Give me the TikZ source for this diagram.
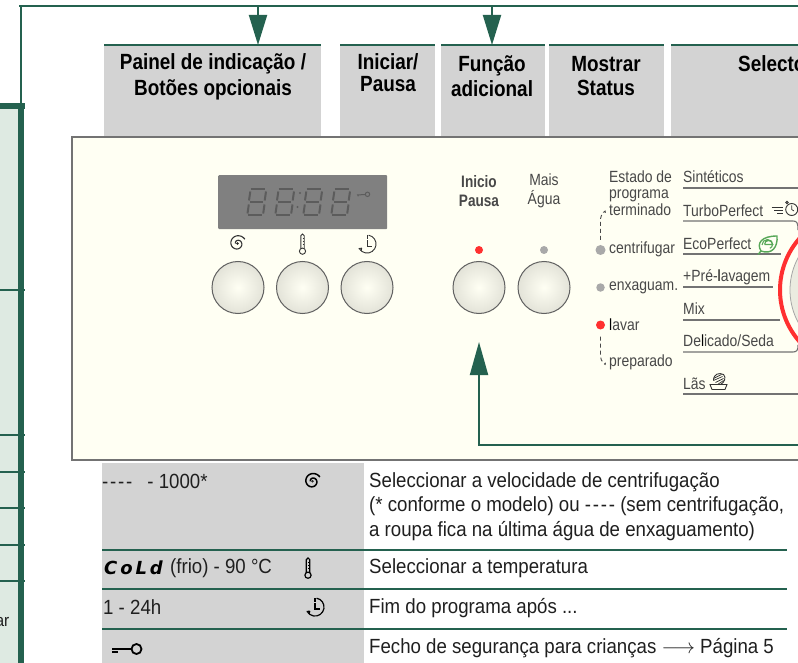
\documentclass[tikz,border=0pt]{standalone}
\usepackage{fontspec}
\usetikzlibrary{arrows.meta,calc}
\setmainfont{Liberation Sans}
\newfontfamily\hdrfont[FakeStretch=0.86]{Liberation Sans Bold}
\newfontfamily\bodyfont[FakeStretch=0.91]{Liberation Sans}
\newfontfamily\panelfont[FakeStretch=0.86]{Liberation Sans}
\newfontfamily\panelbold[FakeStretch=0.82]{Liberation Sans Bold}
\newfontfamily\segfont[LetterSpace=16]{DejaVu Sans Bold Oblique}
\newcommand{\fourdash}{-\kern1.8pt-\kern1.8pt-\kern1.8pt-}
\definecolor{dgreen}{HTML}{24614F}
\definecolor{lgreen}{HTML}{DEEAE2}
\definecolor{hgrey}{HTML}{D3D3D3}
\definecolor{cream}{HTML}{FFFFF3}
\definecolor{ptext}{HTML}{484848}
\definecolor{ledred}{HTML}{FF3030}
\definecolor{ledgrey}{HTML}{A9A9A9}
\definecolor{eco}{HTML}{58A858}
\tikzset{
  x=1pt,y=-1pt,
  wire/.style={draw=dgreen,line width=2pt},
  rowline/.style={draw=dgreen,line width=1.5pt},
  pointer/.style={wire,-{Triangle[width=18pt,length=30pt]}},
  hdrbox/.style={fill=hgrey,inner sep=0pt,outer sep=0pt,anchor=north west,minimum height=92},
  hdrtext/.style={font=\hdrfont\fontsize{22}{24.5}\selectfont,align=center,inner sep=0pt,text=black},
  btn/.style={circle,draw=black!62,line width=1pt,inner color=cream!95!white,outer color=black!11!cream,minimum size=52,inner sep=0pt},
  led/.style={circle,inner sep=0pt},
  ptxt/.style={font=\panelfont\fontsize{16.2}{16.5}\selectfont,text=ptext,inner sep=0pt,align=left,anchor=west},
  pline/.style={draw=black!55,line width=1.1pt},
  dashcurve/.style={draw=ptext,line width=.9pt,dash pattern=on 4pt off 3pt},
  tbl/.style={font=\bodyfont\fontsize{20.5}{24.3}\selectfont,text=black!88,inner sep=0pt,align=left,anchor=west},
  iconl/.style={draw=black!80,line width=.9pt},
  spinl/.style={draw=black!80,line width=1.1pt},
  pics/spinico/.style={code={
    \fill[black!85] (0,0) circle (1.4);
    \draw[spinl,domain=180:690,samples=60,smooth,variable=\t] plot ({(2+6.5*(\t-180)/510)*cos(\t)},{(2+6.5*(\t-180)/510)*sin(\t)});
  }},
  pics/thermico/.style={code={
    \draw[iconl] (-1.7,5.6) -- (-1.7,-7.4) arc[start angle=180,end angle=360,radius=1.7,] -- (1.7,5.6);
    \draw[iconl] (0,8.2) circle (3.1);
    \draw[iconl,line width=.6pt] (0,-5) -- (1.7,-5) (0,-2) -- (1.7,-2) (0,1) -- (1.7,1);
  }},
  pics/clockico/.style={code={
    \draw[iconl] (0,-9) -- (0,-5);
    \draw[iconl] (1.6,-8.8) arc[start angle=-80,end angle=150,radius=9];
    \draw[iconl] (0,-3.6) -- (0,2) -- (4.5,2);
    \draw[iconl] (-8.4,4.6) -- (-5.2,4.1) (-5.2,4.1) -- (-6,7);
  }},
  seg/.style={draw=black!64,line width=2pt,line cap=butt},
  pics/segdigit/.style={code={
    \draw[seg] (2.7,-13) -- (16.8,-13);
    \draw[seg] (1.8,0) -- (14.8,0);
    \draw[seg] (-0.3,13) -- (14,13);
    \draw[seg] (2.3,-11) -- (1,-2);
    \draw[seg] (.8,2) -- (-.5,11);
    \draw[seg] (18,-11) -- (16.7,-2);
    \draw[seg] (16.5,2) -- (15.2,11);
  }},
}
\begin{document}
\begin{tikzpicture}
\useasboundingbox (0,0) rectangle (798,663);
\clip (0,0) rectangle (798,663);
% left band
\fill[lgreen] (0,105) rectangle (18,663);
\fill[dgreen] (18,105) rectangle (24,663);
\fill[dgreen] (0,103.5) rectangle (25,109);
\foreach \yy in {290,435,472,508,545,581}{\draw[rowline] (0,\yy) -- (25,\yy);}
\node[tbl,anchor=east,font=\bodyfont\fontsize{17}{18}\selectfont] (arcut) at (9.5,622) {ar};
% top line
\coordinate (topL) at (19,6);
\coordinate (topR) at (798,6);
\coordinate (band) at (21,105);
\coordinate (t1) at (258,6);
\coordinate (t2) at (492,6);
\draw[wire] (topL) -- (topR);
\draw[wire] (21,6) -- (band);
% headers
\node[hdrbox,minimum width=217] (h1) at (104,45) {};
\node[hdrbox,minimum width=95] (h2) at (340,45) {};
\node[hdrbox,minimum width=104] (h3) at (441,45) {};
\node[hdrbox,minimum width=115] (h4) at (549,45) {};
\node[hdrbox,minimum width=127] (h5) at (671,45) {};
\foreach \h in {h1,h2,h3,h4,h5}{\draw[rowline,line width=2pt] (\h.north west) -- (\h.north east);}
\node[hdrtext] (h1t) at (213,77) {Painel de indicação /\\[1.5pt]Botões opcionais};
\node[hdrtext] (h2t) at (388,73) {Iniciar/\\[-2.5pt]Pausa};
\node[hdrtext] (h3t) at (492,76) {Função\\adicional};
\node[hdrtext] (h4t) at (606,76) {Mostrar\\Status};
\node[hdrtext,anchor=west] (h5t) at (738,64) {Selecto};
\draw[pointer] (t1) -- (t1 |- h1.north);
\draw[pointer] (t2) -- (t2 |- h3.north);
% panel
\fill[cream] (72,137) rectangle (800,460);
\draw[draw=black!55,line width=1.4pt] (800,137) -- (72,137) -- (72,460) -- (800,460);
% display
\node[fill=black!50,rounded corners=1pt,inner sep=0pt,minimum width=169,minimum height=54,anchor=north west] (disp) at (218,175) {};
\foreach \dx in {248,276,304,332}{\pic at (\dx,202.5) {segdigit};}
\fill[black!64] (300,193) circle (1.2) (297.5,207) circle (1.2);
\draw[black!64,line width=1pt] (357,195) -- (365,194.5) (358,195) -- (358,196.5);
\draw[black!64,line width=1pt] (367.5,194.3) circle (2.2);
% icons
\pic at (237.5,243.5) {spinico};
\pic at (302.5,243) {thermico};
\pic at (367,244) {clockico};
% buttons
\node[btn] (b1) at (238,287.5) {};
\node[btn] (b2) at (302.5,287.5) {};
\node[btn] (b3) at (367,287.5) {};
\node[btn] (b4) at (479,287.5) {};
\node[btn] (b5) at (544,287.5) {};
% start/water
\node[font=\panelbold\fontsize{16.6}{18.5}\selectfont,text=ptext,align=center,inner sep=0pt] (l4) at (479,191) {Inicio\\Pausa};
\node[font=\panelfont\fontsize{16.2}{18.5}\selectfont,text=ptext,align=center,inner sep=0pt] (l5) at (544,191) {Mais\\Água};
\node[led,fill=ledred,minimum size=8] (d4) at (479,250) {};
\node[led,fill=ledgrey,minimum size=8] (d5) at (544,250) {};
% status
\node[ptxt] (s0) at (609,193) {Estado de\\programa\\terminado};
\node[ptxt] (s1) at (609,249) {centrifugar};
\node[ptxt] (s2) at (609,288) {enxaguam.};
\node[ptxt] (s3) at (609,325) {\textcolor{black}{l}avar};
\node[ptxt] (s4) at (609,362) {preparado};
\node[led,fill=ledgrey,minimum size=10] (q1) at (600.5,250) {};
\node[led,fill=ledgrey,minimum size=8.5] (q2) at (600.5,287.5) {};
\node[led,fill=ledred,minimum size=9] (q3) at (600.5,325) {};
\draw[dashcurve] (q1.north) ++(0,-5) -- ++(0,-21) .. controls +(0,-4) and +(1,-5) .. +(5,-6);
\draw[dashcurve] (q3.south) ++(0,7) -- ++(0,20) .. controls +(0,4) and +(1,5) .. +(5,6);
% dial
\draw[draw=black!35,fill=black!8!cream,line width=.8pt] (858,290) circle (68);
\draw[draw=ledred,line width=4pt] (858,290) circle (78);
% programmes
\node[ptxt] (p1) at (683,177) {Sintéticos};
\node[ptxt] (p2) at (683,210.5) {TurboPerfect};
\node[ptxt] (p3) at (683,243.5) {EcoPerfect};
\node[ptxt] (p4) at (683,277) {+Pré-\textcolor{black}{l}avagem};
\node[ptxt] (p5) at (683,309) {Mix};
\node[ptxt] (p6) at (683,341) {De\textcolor{black}{l}icado/Seda};
\node[ptxt] (p7) at (683,384) {Lãs};
\draw[pline] (683,188) -- (798,188);
\draw[pline] (683,221) -- (793,221) .. controls (797,221) and (798,223) .. (798,230);
\draw[pline] (683,254) -- (781,254);
\draw[pline] (683,287) -- (773,287);
\draw[pline] (683,320) -- (780,320);
\draw[pline] (683,352) -- (793,352) .. controls (797,352) and (798,350) .. (798,345);
\draw[pline] (683,394) -- (798,394);
% turbo icon
\draw[iconl] (771.5,207.5) -- (783,207.5) (774,210.5) -- (783,210.5) (777,213) -- (783,213);
\draw[iconl] (791.7,209.5) circle (6);
\draw[iconl] (787,202.5) circle (1.2);
\draw[iconl,line width=.7pt] (791.7,205.5) -- (791.7,209.5) -- (794,211);
% eco leaf
\begin{scope}[shift={(767,245)}]
\draw[eco,line width=1.4pt] (-9,9.5) -- (-6,6) .. controls (-11,-2) and (-5,-9) .. (10,-9) .. controls (11,2) and (5,10) .. (-6,6);
\draw[eco,line width=1.1pt] (-2.5,-.5) arc[start angle=180,end angle=430,radius=4] (-5,0) arc[start angle=180,end angle=360,radius=5.5] (-2.5,-.5) -- (5,-.5);
\end{scope}
% wool icon
\begin{scope}[shift={(718.5,381.5)}]
\draw[iconl] (-8.5,3) -- (-6.5,8) -- (6.5,8) -- (8.5,3) -- cycle;
\draw[iconl] (-5,-1) .. controls (-5,-8) and (1,-9) .. (5,-7) .. controls (8,-4) and (6,1) .. (2,3);
\draw[iconl,line width=.7pt] (-5,-3) -- (3,-7) (-5,-1) -- (4,-5) (-3,1) -- (5,-3) (-1,3) -- (5,-1);
\end{scope}
% feedback arrow
\coordinate (fbR) at (798,445);
\coordinate (fbT) at (479,342);
\draw[wire,-{Triangle[width=18pt,length=33pt]}] (fbR) -- (fbT |- fbR) -- (fbT);
% table
\fill[hgrey] (102,463) rectangle (364,663);
\coordinate (r1) at (102,550); \coordinate (r1e) at (787,550);
\coordinate (r2) at (102,589); \coordinate (r2e) at (787,589);
\coordinate (r3) at (102,629); \coordinate (r3e) at (787,629);
\draw[rowline] (r1) -- (r1e);
\draw[rowline] (r2) -- (r2e);
\draw[rowline] (r3) -- (r3e);
\node[tbl] (t1a) at (102,481) {\fourdash\hspace{15pt}- 1000*};
\begin{scope}[spinl/.style={draw=black,line width=1.5pt},iconl/.style={draw=black,line width=1.2pt}]
\pic at (312.5,481.3) {spinico};
\pic at (308,567) {thermico};
\pic at (315,607) {clockico};
\end{scope}
\node[font=\segfont\fontsize{18}{18}\selectfont,text=black,inner sep=0pt,anchor=west] (t2a) at (104,568) {CoLd};
\node[tbl] (t2b) at (170,568) {(frio) - 90 °C};
\node[tbl] (t3a) at (103,607) {1 - 24h};
\draw[black,line width=2pt] (112,649) -- (132,649);
\draw[black,line width=2pt] (112,652) -- (118,652);
\draw[black,line width=1.8pt] (136.5,649) circle (5);
\node[tbl] (t1b) at (369,506.5) {Seleccionar a velocidade de centrifugação\\(* conforme o modelo) ou \fourdash{} (sem centrifugação,\\a roupa fica na última água de enxaguamento)};
\node[tbl] (t2c) at (369,568) {Seleccionar a temperatura};
\node[tbl] (t3b) at (369,608) {Fim do programa após ...};
\node[tbl] (t4b) at (369,648) {Fecho de segurança para crianças $\longrightarrow$ Página 5};
\end{tikzpicture}
\end{document}
